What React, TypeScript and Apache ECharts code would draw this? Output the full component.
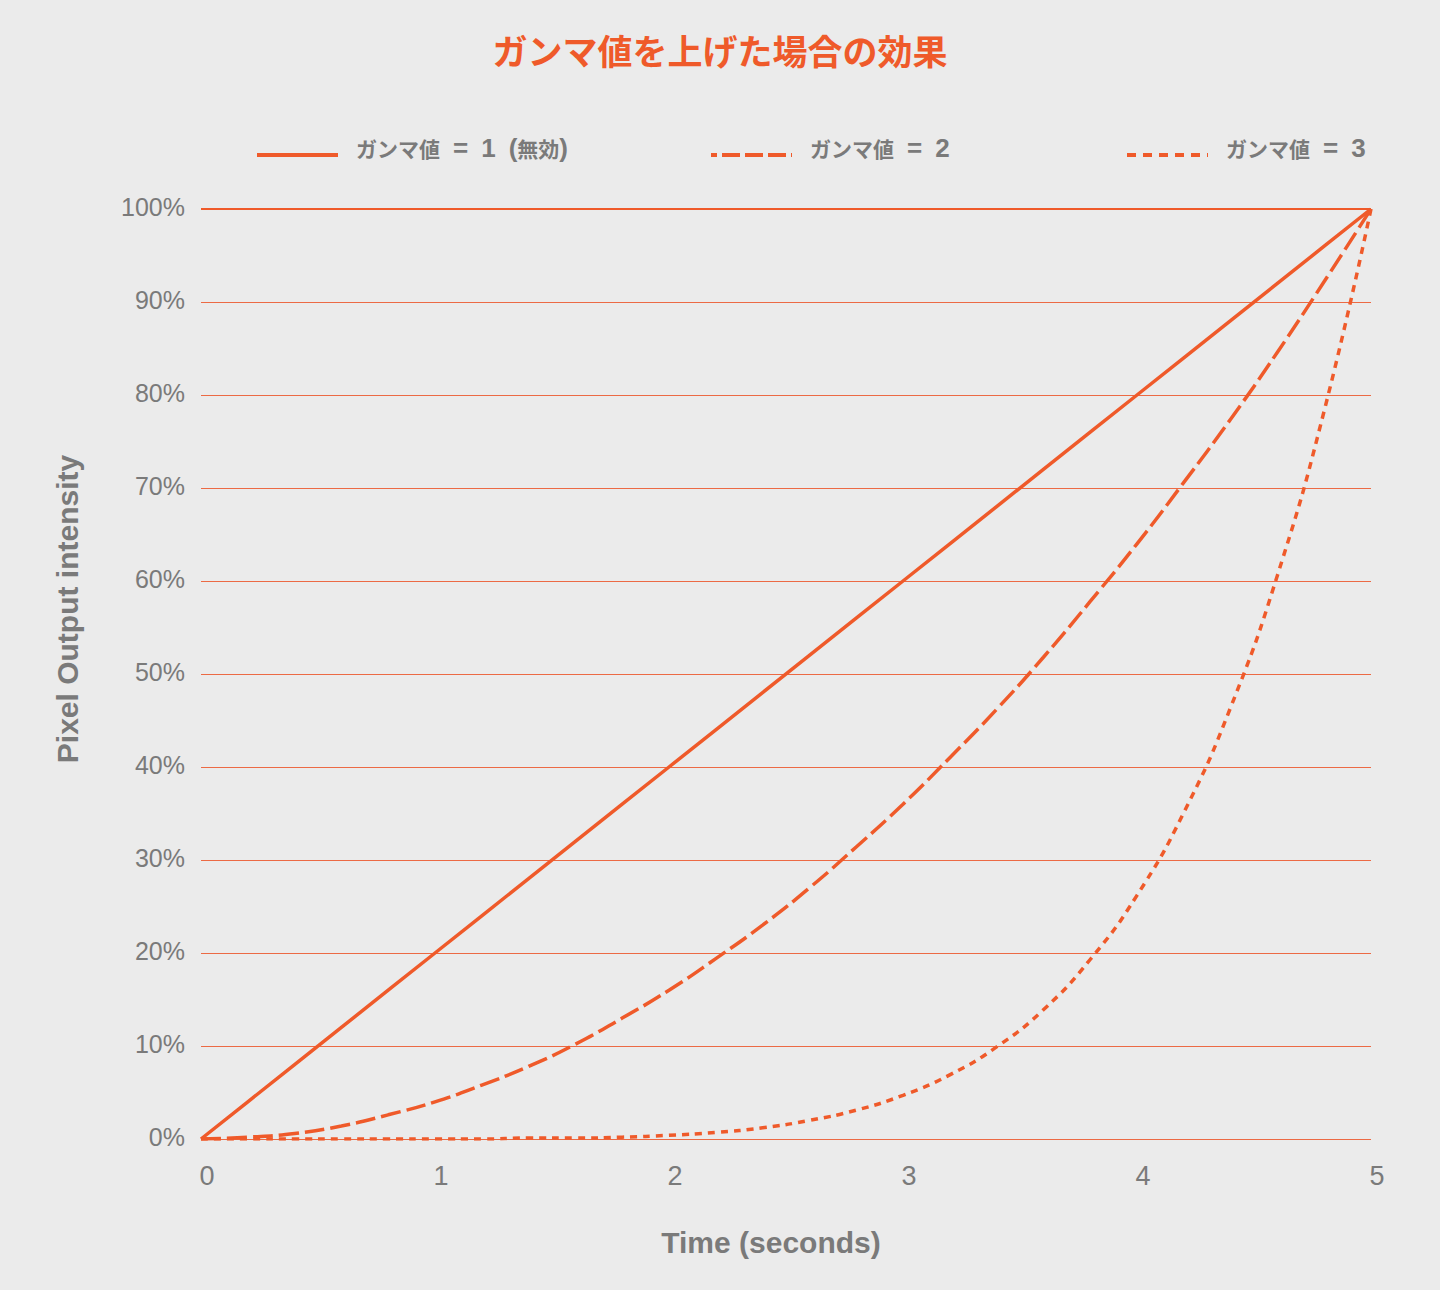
import React, { useEffect, useRef } from "react";
import * as echarts from "echarts";

const TITLE = "ガンマ値を上げた場合の効果";
const X_NAME = "Time (seconds)";
const Y_NAME = "Pixel Output intensity";
const SERIES_NAMES = ["ガンマ値\u2002=\u20021\u2002(無効)", "ガンマ値\u2002=\u20022", "ガンマ値\u2002=\u20023"];

const times = [0, 0.2, 0.4, 0.6, 0.8, 1, 1.2, 1.4, 1.6, 1.8, 2, 2.2, 2.4, 2.6, 2.8, 3, 3.2, 3.4, 3.6, 3.8, 4, 4.2, 4.4, 4.6, 4.8, 5];
const gamma1 = [0, 4, 8, 12, 16, 20, 24, 28, 32, 36, 40, 44, 48, 52, 56, 60, 64, 68, 72, 76, 80, 84, 88, 92, 96, 100];
const gamma2 = [0, 0.2, 0.6, 1.4, 2.6, 4, 5.8, 7.8, 10.2, 13, 16, 19.4, 23, 27, 31.4, 36, 41, 46.2, 51.8, 57.8, 64, 70.6, 77.4, 84.6, 92.2, 100];
const gamma3 = [0, 0, 0, 0, 0, 0, 0, 0.1, 0.1, 0.2, 0.4, 0.7, 1.2, 2, 3.1, 4.7, 6.9, 9.9, 13.9, 19.3, 26.2, 35.1, 46.4, 60.6, 78.3, 100];
const yTicks = [0, 10, 20, 30, 40, 50, 60, 70, 80, 90, 100];

const ORANGE = "#ef5a2a";
const GRID_COLOR = "#ec6a44";
const GRAY = "#7a7a7a";
const BG = "#ebebeb";
const SANS = "'Liberation Sans', Arial, 'Noto Sans CJK JP', sans-serif";
const CJK = "'Noto Sans CJK JP', 'Liberation Sans', sans-serif";

const DASH2 = [20, 6];
const DASH3 = [7, 6];

function pairs(ys: number[]) {
  return times.map((t, i) => [t, ys[i]]);
}

// split label into CJK and Latin runs for rich text
function richText(name: string) {
  const parts: string[] = [];
  let cur = "";
  let curType = "";
  for (const ch of name) {
    const isCjk = /[\u3000-\u9fff\uff00-\uffef]/.test(ch);
    const t = isCjk ? "c" : "l";
    if (t !== curType && cur) {
      parts.push(`{${curType}|${cur}}`);
      cur = "";
    }
    curType = t;
    cur += ch;
  }
  if (cur) parts.push(`{${curType}|${cur}}`);
  return parts.join("");
}

function legendItem(x: number, name: string, dash: number[] | null, dashOffset: number) {
  return [
    {
      type: "line",
      shape: { x1: x, y1: 155, x2: x + 81, y2: 155 },
      style: {
        stroke: ORANGE,
        lineWidth: 4,
        lineDash: dash || undefined,
        lineDashOffset: dashOffset,
      },
    },
    {
      type: "text",
      x: x + 99,
      y: 148,
      style: {
        text: richText(name),
        fill: GRAY,
        align: "left",
        verticalAlign: "middle",
        rich: {
          c: { fontSize: 21, fontWeight: "bold", fontFamily: CJK, fill: GRAY, color: GRAY },
          l: { fontSize: 26, fontWeight: "bold", fontFamily: SANS, fill: GRAY, color: GRAY },
        },
      },
    },
  ];
}

export default function App() {
  const ref = useRef<HTMLDivElement>(null);
  useEffect(() => {
    document.body.style.margin = "0";
    document.body.style.background = BG;
    if (!ref.current) return;
    const chart = echarts.init(ref.current, undefined, { renderer: "svg" });
    chart.setOption({
      animation: false,
      backgroundColor: BG,
      title: {
        text: TITLE,
        left: "center",
        top: 27,
        textStyle: { color: ORANGE, fontSize: 35, fontWeight: "bold", fontFamily: CJK },
      },
      grid: { left: 201, right: 69, top: 209, bottom: 151, containLabel: false },
      xAxis: {
        type: "value",
        min: 0,
        max: 5,
        interval: 1,
        axisLine: { show: false },
        axisTick: { show: false },
        splitLine: { show: false },
        axisLabel: {
          color: GRAY,
          fontSize: 27,
          fontFamily: SANS,
          margin: 23,
          padding: [0, 0, 0, 12],
        },
      },
      yAxis: {
        type: "value",
        min: yTicks[0],
        max: yTicks[yTicks.length - 1],
        interval: 10,
        axisLine: { show: false },
        axisTick: { show: false },
        splitLine: { lineStyle: { color: GRID_COLOR, width: 1 } },
        axisLabel: {
          color: GRAY,
          fontSize: 25,
          fontFamily: SANS,
          margin: 16,
          formatter: "{value}%",
          verticalAlign: "bottom",
          padding: [0, 0, -10, 0],
        },
      },
      graphic: [
        ...legendItem(257, SERIES_NAMES[0], null, 0),
        ...legendItem(711, SERIES_NAMES[1], [18, 5], 12),
        ...legendItem(1127, SERIES_NAMES[2], [9, 7], 0),
        {
          type: "text",
          x: 771,
          y: 1242,
          style: {
            text: X_NAME,
            fill: GRAY,
            font: `bold 30px ${SANS}`,
            align: "center",
            verticalAlign: "middle",
          },
        },
        {
          type: "text",
          x: 67,
          y: 609,
          rotation: Math.PI / 2,
          style: {
            text: Y_NAME,
            fill: GRAY,
            font: `bold 30px ${SANS}`,
            align: "center",
            verticalAlign: "middle",
          },
        },
      ],
      series: [
        {
          name: SERIES_NAMES[0],
          type: "line",
          data: pairs(gamma1),
          showSymbol: false,
          symbol: "none",
          lineStyle: { color: ORANGE, width: 3.5 },
          itemStyle: { color: ORANGE },
          z: 3,
          markLine: {
            silent: true,
            symbol: "none",
            label: { show: false },
            lineStyle: { color: ORANGE, width: 2, type: "solid" },
            data: [{ yAxis: 100 }],
          },
        },
        {
          name: SERIES_NAMES[1],
          type: "line",
          data: pairs(gamma2),
          showSymbol: false,
          symbol: "none",
          smooth: 0.5,
          lineStyle: { color: ORANGE, width: 3.5, type: DASH2 },
          itemStyle: { color: ORANGE },
          z: 3,
        },
        {
          name: SERIES_NAMES[2],
          type: "line",
          data: pairs(gamma3),
          showSymbol: false,
          symbol: "none",
          smooth: 0.5,
          lineStyle: { color: ORANGE, width: 3.5, type: DASH3 },
          itemStyle: { color: ORANGE },
          z: 3,
        },
      ],
    });
    return () => chart.dispose();
  }, []);
  return <div ref={ref} style={{ width: 1440, height: 1290, background: BG }} />;
}
